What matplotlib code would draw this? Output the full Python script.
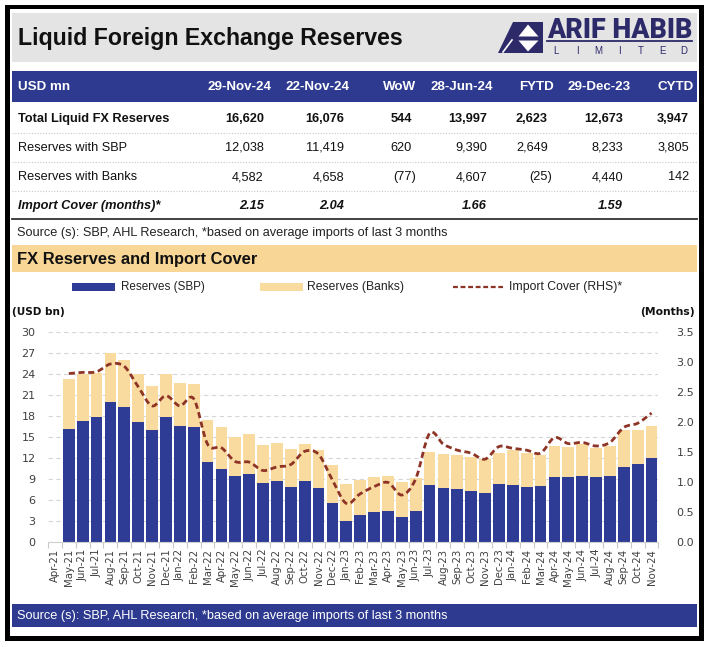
import numpy as np
import matplotlib
matplotlib.use('Agg')
import matplotlib.pyplot as plt
from matplotlib.patches import Rectangle, Polygon, PathPatch
from matplotlib.path import Path
from matplotlib.lines import Line2D

# ---------------- data ----------------
months = ['Apr-21', 'May-21', 'Jun-21', 'Jul-21', 'Aug-21', 'Sep-21', 'Oct-21', 'Nov-21', 'Dec-21',
          'Jan-22', 'Feb-22', 'Mar-22', 'Apr-22', 'May-22', 'Jun-22', 'Jul-22', 'Aug-22', 'Sep-22',
          'Oct-22', 'Nov-22', 'Dec-22', 'Jan-23', 'Feb-23', 'Mar-23', 'Apr-23', 'May-23', 'Jun-23',
          'Jul-23', 'Aug-23', 'Sep-23', 'Oct-23', 'Nov-23', 'Dec-23', 'Jan-24', 'Feb-24', 'Mar-24',
          'Apr-24', 'May-24', 'Jun-24', 'Jul-24', 'Aug-24', 'Sep-24', 'Oct-24', 'Nov-24']
reserves_sbp = [np.nan, 16.1, 17.3, 17.9, 20.0, 19.3, 17.2, 16.0, 17.8, 16.6, 16.5, 11.4, 10.4, 9.4,
                9.7, 8.4, 8.7, 7.9, 8.7, 7.7, 5.6, 3.0, 3.8, 4.2, 4.4, 3.6, 4.4, 8.1, 7.7, 7.6, 7.3,
                7.0, 8.2, 8.1, 7.9, 8.0, 9.2, 9.2, 9.4, 9.2, 9.4, 10.7, 11.1, 12.0]
reserves_banks = [np.nan, 7.2, 6.7, 6.3, 7.1, 6.7, 6.8, 6.3, 6.2, 6.2, 6.1, 6.0, 6.0, 5.6,
                  5.8, 5.4, 5.5, 5.4, 5.3, 5.4, 5.4, 5.3, 5.0, 5.0, 5.0, 5.0, 4.7, 4.7, 4.9, 4.8, 4.8,
                  4.9, 4.5, 5.0, 4.8, 4.4, 4.5, 4.4, 4.6, 4.2, 4.3, 5.3, 4.9, 4.6]
import_cover = [np.nan, 2.81, 2.83, 2.84, 2.97, 2.93, 2.59, 2.27, 2.44, 2.27, 2.39, 1.63, 1.57, 1.34,
                1.33, 1.19, 1.25, 1.29, 1.51, 1.46, 1.03, 0.64, 0.80, 0.92, 0.99, 0.78, 1.05, 1.81,
                1.63, 1.53, 1.48, 1.38, 1.59, 1.56, 1.53, 1.48, 1.74, 1.64, 1.66, 1.60, 1.66, 1.91,
                1.98, 2.15]

table_cols = ['29-Nov-24', '22-Nov-24', 'WoW', '28-Jun-24', 'FYTD', '29-Dec-23', 'CYTD']
row_total = [16620, 16076, 544, 13997, 2623, 12673, 3947]
row_sbp = [12038, 11419, 620, 9390, 2649, 8233, 3805]
row_banks = [4582, 4658, -77, 4607, -25, 4440, 142]
row_cover = ['2.15', '2.04', '', '1.66', '', '1.59', '']

left_ticks = list(range(0, 31, 3))
right_ticks = [0.0, 0.5, 1.0, 1.5, 2.0, 2.5, 3.0, 3.5]

# ---------------- styles ----------------
BLUE = '#2E3A8F'
BAR_BLUE = '#2E3C96'
BEIGE = '#F9DA9F'
BANNER_BEIGE = '#F8D796'
LINE = '#8E3426'
NAVY = '#2D2A6A'
GRAY_TXT = '#404040'

W, H = 711, 647
fig = plt.figure(figsize=(W / 100, H / 100), dpi=100)
fig.patch.set_facecolor('white')
renderer = fig.canvas.get_renderer()


def box(x0, y0, x1, y1, color, z=0):
    fig.add_artist(Rectangle((x0 / W, 1 - y1 / H), (x1 - x0) / W, (y1 - y0) / H,
                             transform=fig.transFigure, fc=color, ec='none', zorder=z))


def hline(y, x0, x1, color, lw, ls='-', z=1):
    fig.add_artist(Line2D([x0 / W, x1 / W], [1 - y / H, 1 - y / H], transform=fig.transFigure,
                          color=color, lw=lw, ls=ls, zorder=z))


def put(x, y, s, width=None, size=10, ha='left', va='center', **kw):
    t = fig.text(x / W, 1 - y / H, s, fontsize=size, ha=ha, va=va, **kw)
    if width:
        w = t.get_window_extent(renderer).width
        t.set_fontsize(size * width / w)
    return t


# outer frame
box(5, 5, 704, 641, 'black', z=0)
box(10, 9, 699, 636, 'white', z=0.1)

# title banner
box(12, 13, 697, 62, '#E4E4E4', z=0.2)
put(18, 38, 'Liquid Foreign Exchange Reserves', width=387, size=15, fontweight='bold',
    family=['Liberation Sans'], color='#111111')

# logo
fig.add_artist(Polygon([(498 / W, 1 - 53 / H), (513 / W, 1 - 22 / H), (543 / W, 1 - 22 / H),
                        (543 / W, 1 - 53 / H)], closed=True, transform=fig.transFigure,
                       fc=NAVY, ec='none', zorder=1))
fig.add_artist(Polygon([(528 / W, 1 - 24.5 / H), (518.5 / W, 1 - 36.5 / H), (538.5 / W, 1 - 36.5 / H)],
                       closed=True, transform=fig.transFigure, fc='white', ec='none', zorder=2))
fig.add_artist(Polygon([(518.5 / W, 1 - 40.5 / H), (538.5 / W, 1 - 40.5 / H), (528 / W, 1 - 51.5 / H)],
                       closed=True, transform=fig.transFigure, fc='white', ec='none', zorder=2))
fig.add_artist(Line2D([503 / W, 512 / W], [1 - 52 / H, 1 - 40 / H], transform=fig.transFigure,
                      color='white', lw=1.2, zorder=2))
put(547, 31, 'ARIF HABIB', width=145, size=16, fontweight='black', family=['Roboto', 'Liberation Sans'],
    color=NAVY)
hline(40.5, 547, 692, NAVY, 1.3, z=2)
for i, ch in enumerate('LIMITED'):
    put(556 + i * 21.3, 51.5, ch, size=7, ha='center', color=NAVY, family=['Liberation Sans'])

# table
TF = ['Liberation Sans']
box(12, 71, 697, 102, BLUE, z=0.2)
probe = put(100, 100, 'Total Liquid FX Reserves', width=151, size=10, fontweight='bold', family=TF)
tsize = probe.get_fontsize()
probe.remove()
val_right = [264, 344, 412, 487, 548, 623, 689]
hdr_right = [271, 350, 416, 493, 554, 631, 694]
put(18, 87, 'USD mn', size=tsize * 1.05, fontweight='bold', color='white', family=TF)
for c, r in zip(table_cols, hdr_right):
    put(r, 87, c, size=tsize * 1.05, fontweight='bold', color='white', ha='right', family=TF)


def fmt(v):
    return f'({abs(v):,})' if v < 0 else f'{v:,}'


rows = [('Total Liquid FX Reserves', row_total, 119, dict(fontweight='bold')),
        ('Reserves with SBP', row_sbp, 148, dict()),
        ('Reserves with Banks', row_banks, 177, dict())]
for name, vals, y, st in rows:
    put(18, y, name, size=tsize, color='#111111', family=TF, **st)
    for v, r in zip(vals, val_right):
        put(r + (4 if v < 0 else 0), y, fmt(v), size=tsize, color='#111111', ha='right',
            family=TF, **st)
put(18, 206, 'Import Cover (months)*', size=tsize, color='#111111', family=TF,
    fontweight='bold', fontstyle='italic')
for v, r in zip(row_cover, val_right):
    if v:
        put(r, 206, v, size=tsize, color='#111111', ha='right', family=TF,
            fontweight='bold', fontstyle='italic')
for yy in (133, 162, 191):
    hline(yy, 12, 697, '#C8C8C8', 0.8, ls=(0, (1, 1.5)))
hline(219, 12, 697, '#333333', 1.3)
src = 'Source (s): SBP, AHL Research, *based on average imports of last 3 months'
put(17, 233, src, width=436, size=8, color='#222222', family=['Liberation Sans'])

# chart banner
box(12, 245, 697, 272, BANNER_BEIGE, z=0.2)
put(17, 259.5, 'FX Reserves and Import Cover', width=241, size=11, fontweight='bold',
    family=['Liberation Sans'], color='#111111')

# legend
box(72, 283, 115, 291.5, BAR_BLUE, z=1)
put(121, 287, 'Reserves (SBP)', width=84, size=8, color='#222222', family=['Liberation Sans'])
box(260, 283, 303, 291.5, BEIGE, z=1)
put(307, 287, 'Reserves (Banks)', width=97, size=8, color='#222222', family=['Liberation Sans'])
fig.add_artist(Line2D([453 / W, 503 / W], [1 - 287 / H, 1 - 287 / H], transform=fig.transFigure,
                      color=LINE, lw=1.6, ls=(0, (2.2, 1.2)), zorder=2))
put(509, 287, 'Import Cover (RHS)*', width=114, size=8, color='#222222', family=['Liberation Sans'])

put(12, 312, '(USD bn)', width=53, size=8, fontweight='bold', color='#111111')
put(695, 312, '(Months)', width=55, size=8, fontweight='bold', color='#111111', ha='right')

# bottom source bar
box(12, 604, 697, 627, BLUE, z=0.2)
put(17, 615.5, src, width=436, size=8, color='white', family=['Liberation Sans'])

# ---------------- chart ----------------
x0p, x1p, ytop, ybot = 48, 658.5, 332.3, 541.7
ax = fig.add_axes([x0p / W, 1 - ybot / H, (x1p - x0p) / W, (ybot - ytop) / H])
ax.set_zorder(3)
ax.set_facecolor('none')
x = np.arange(len(months))
sbp = np.array(reserves_sbp)
banks = np.array(reserves_banks)
ax.bar(x, sbp, width=0.85, color=BAR_BLUE, zorder=2, linewidth=0)
ax.bar(x, banks, bottom=sbp, width=0.85, color=BEIGE, zorder=2, linewidth=0)
ax.set_xlim(-0.5, len(months) - 0.5)
ax.set_ylim(0, 30)
ax.set_yticks(left_ticks)
ax.yaxis.grid(True, color='#D6D6D6', lw=0.8, ls=(0, (4, 3)), zorder=0)
ax.set_axisbelow(True)
for s in ('top', 'right', 'left'):
    ax.spines[s].set_visible(False)
ax.spines['bottom'].set_color('#D0D0D0')
ax.spines['bottom'].set_linewidth(0.8)
ax.tick_params(axis='y', length=0, labelsize=8, pad=9, labelcolor=GRAY_TXT)
ax.set_xticks(x)
ax.set_xticklabels(months, rotation=90, fontsize=7.3, color=GRAY_TXT, va='top', ha='center')
ax.tick_params(axis='x', which='major', length=0, pad=5)
ax.set_xticks(np.arange(-0.5, len(months), 1.0), minor=True)
ax.tick_params(axis='x', which='minor', length=4, color='#C8C8C8', width=0.8)

ax2 = ax.twinx()
ax2.set_zorder(4)
ax2.patch.set_visible(False)
ax2.set_ylim(0, 3.5)
ax2.set_yticks(right_ticks)
ax2.set_yticklabels([f'{v:.1f}' for v in right_ticks])
ax2.tick_params(axis='y', length=0, labelsize=8, pad=13, labelcolor=GRAY_TXT)
for s in ax2.spines.values():
    s.set_visible(False)

# smoothed dashed import-cover line (Catmull-Rom as cubic Bezier through the data points)
cv = np.array(import_cover)
ok = ~np.isnan(cv)
px, py = x[ok].astype(float), cv[ok]
pts = np.column_stack([px, py])
verts = [tuple(pts[0])]
codes = [Path.MOVETO]
n = len(pts)
for i in range(n - 1):
    p0 = pts[max(i - 1, 0)]
    p1 = pts[i]
    p2 = pts[i + 1]
    p3 = pts[min(i + 2, n - 1)]
    c1 = p1 + (p2 - p0) / 6.0
    c2 = p2 - (p3 - p1) / 6.0
    verts += [tuple(c1), tuple(c2), tuple(p2)]
    codes += [Path.CURVE4] * 3
ax2.add_patch(PathPatch(Path(verts, codes), fill=False, edgecolor=LINE, lw=2.0,
                        ls=(0, (2.2, 1.3)), zorder=5, capstyle='butt'))

fig.savefig('out.png', dpi=100, facecolor='white')
